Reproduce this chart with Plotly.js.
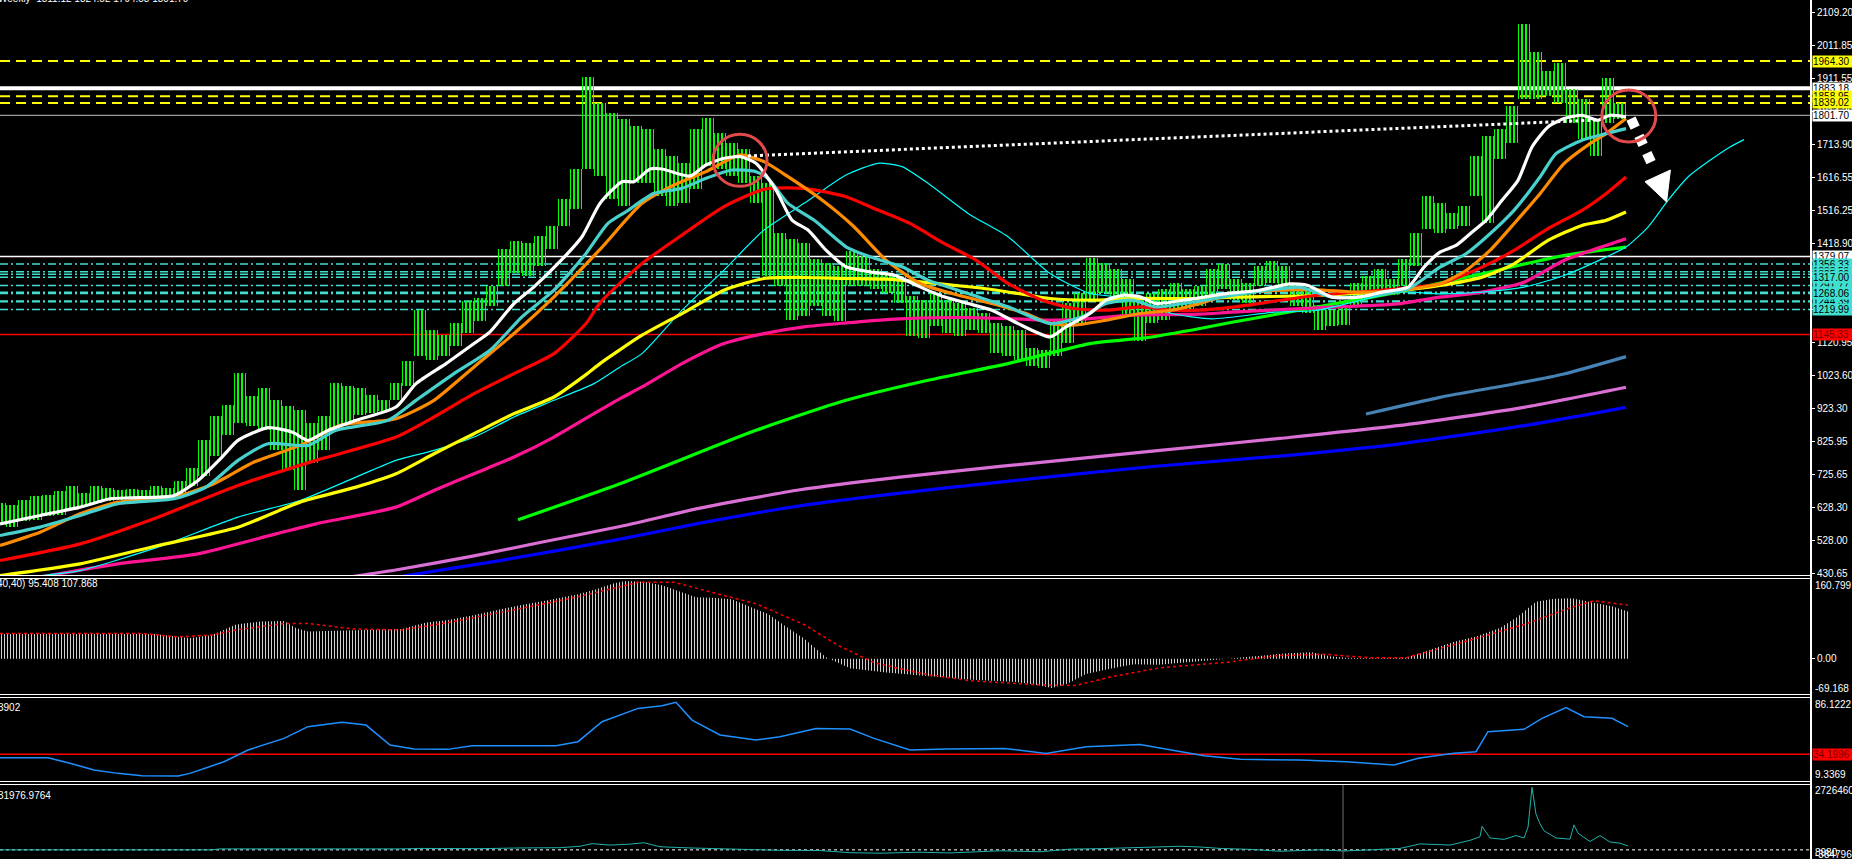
<!DOCTYPE html>
<html><head><meta charset="utf-8">
<script src="https://cdn.plot.ly/plotly-3.0.1.min.js"></script>
<style>html,body{margin:0;padding:0;background:#000;overflow:hidden}#chart{width:1852px;height:859px;}</style>
</head><body><div id="chart"></div>
<script>
// ---------- price bars (sampled every 6 weekly bars) ----------
const barX=[0,6,12,18,24,30,36,42,48,54,60,66,72,78,84,90,96,102,108,114,120,126,132,138,144,150,156,162,168,174,180,186,192,198,204,210,216,222,228,234,240,246,252,258,264,270,276,282,288,294,300,306,312,318,324,330,336,342,348,354,360,366,372,378,384,390,396,402,408,414,420,426,432,438,444,450,456,462,468,474,480,486,492,498,504,510,516,522,528,534,540,546,552,558,564,570,576,582,588,594,600,606,612,618,624,630,636,642,648,654,660,666,672,678,684,690,696,702,708,714,720,726,732,738,744,750,756,762,768,774,780,786,792,798,804,810];
const barHigh=[640,635,650,660,665,675,690,670,690,685,680,682,680,690,685,705,745,830,900,935,1030,960,985,950,930,920,880,900,1000,990,985,965,950,1000,1065,1220,1160,1145,1180,1245,1255,1290,1400,1425,1420,1440,1470,1550,1640,1917,1840,1810,1790,1770,1760,1700,1680,1660,1760,1795,1750,1720,1700,1620,1600,1450,1430,1420,1370,1360,1350,1395,1380,1340,1330,1320,1260,1250,1270,1250,1240,1225,1210,1180,1170,1160,1105,1100,1190,1240,1270,1375,1360,1340,1310,1250,1270,1280,1300,1280,1290,1340,1355,1310,1300,1350,1365,1350,1300,1280,1235,1220,1235,1300,1320,1340,1310,1370,1450,1560,1540,1510,1530,1680,1740,1760,1830,2075,1990,1935,1960,1880,1850,1790,1915,1840];
const barLow=[575,570,585,590,600,605,620,630,640,645,650,652,652,655,655,665,690,720,780,845,880,870,860,800,740,680,760,800,860,880,905,910,915,950,990,1080,1070,1080,1110,1150,1185,1230,1290,1330,1320,1350,1400,1470,1520,1640,1620,1550,1530,1600,1600,1560,1530,1540,1580,1650,1640,1620,1600,1540,1320,1290,1190,1200,1230,1200,1185,1290,1290,1280,1270,1240,1140,1135,1170,1150,1140,1160,1150,1090,1080,1070,1050,1046,1080,1120,1180,1250,1270,1240,1200,1125,1180,1190,1220,1220,1230,1260,1280,1250,1240,1290,1300,1280,1230,1210,1160,1170,1175,1230,1260,1270,1265,1290,1350,1460,1450,1460,1470,1560,1480,1670,1720,1850,1850,1860,1840,1780,1730,1680,1780,1790];

// ---------- moving averages: [bar index, price] ----------
const whiteX=[0,20,40,55,65,87,99,111,119,134,146,154,164,178,198,208,223,237,245,257,267,281,291,300,311,317,325,331,345,353,362,370,378,388,396,404,413,423,435,447,460,472,484,496,509,525,533,545,553,562,570,578,596,612,629,645,654,666,679,691,704,712,720,728,737,743,751,759,766,774,782,791,799,805,813];
const whiteY=[578,603,628,653,656,663,708,778,828,866,853,828,858,888,928,998,1058,1118,1153,1238,1288,1370,1438,1538,1603,1603,1641,1641,1620,1653,1673,1678,1658,1578,1488,1458,1398,1348,1333,1323,1288,1258,1238,1218,1178,1138,1168,1208,1248,1263,1258,1238,1252,1267,1277,1297,1292,1257,1257,1272,1287,1347,1392,1412,1457,1487,1547,1607,1707,1767,1792,1802,1787,1802,1797];
const turqX=[0,20,40,59,87,103,119,134,154,168,194,208,227,245,261,277,292,304,313,327,341,353,366,378,384,394,407,423,435,451,464,484,504,525,541,553,566,578,596,616,633,650,666,687,704,720,733,745,757,770,778,791,803,813];
const turqY=[543,568,603,638,653,688,768,818,813,858,888,948,1028,1098,1198,1278,1380,1478,1513,1568,1583,1613,1638,1633,1613,1538,1488,1408,1378,1348,1308,1268,1228,1178,1198,1238,1248,1228,1242,1262,1277,1287,1257,1262,1282,1347,1387,1447,1517,1617,1687,1727,1747,1762];
const orangeX=[0,20,40,59,87,107,127,150,170,198,217,237,257,277,300,321,337,353,370,382,394,411,427,443,460,476,496,513,525,537,553,570,586,600,616,637,658,679,699,720,733,745,757,770,782,795,803,813];
const orangeY=[513,553,608,643,658,698,763,813,873,893,948,1048,1148,1258,1400,1538,1593,1633,1683,1663,1618,1548,1468,1368,1298,1268,1238,1208,1178,1173,1188,1208,1218,1238,1267,1277,1279,1272,1277,1297,1337,1397,1477,1567,1657,1717,1747,1792];
const redX=[0,40,79,119,158,198,217,237,257,277,293,300,321,341,362,382,402,423,439,455,472,488,504,521,537,553,570,586,600,616,658,699,720,741,757,774,791,803,813];
const redY=[468,518,598,693,768,838,898,968,1028,1088,1178,1240,1358,1443,1528,1580,1583,1558,1518,1478,1418,1368,1298,1248,1223,1218,1228,1218,1218,1227,1262,1282,1297,1347,1397,1462,1517,1567,1617];
const yellowX=[0,40,79,119,150,178,198,217,237,257,277,293,300,321,341,362,382,402,423,443,460,476,492,509,525,545,566,600,616,658,699,720,741,757,774,791,803,813];
const yellowY=[423,458,513,568,643,688,728,788,848,908,958,1025,1058,1143,1208,1278,1313,1316,1313,1311,1303,1293,1283,1268,1253,1248,1253,1253,1257,1262,1277,1292,1317,1357,1427,1472,1487,1512];
const cyanX=[0,16,40,79,119,150,178,198,217,237,257,277,297,310,321,341,362,382,402,423,439,451,464,484,504,525,545,566,586,606,637,658,699,720,741,762,782,803,813,824,834,844,855,865,872];
const cyanY=[395,419,438,508,598,648,718,768,798,838,898,948,998,1048,1088,1218,1338,1458,1538,1623,1658,1648,1598,1508,1438,1328,1268,1253,1208,1192,1212,1217,1272,1267,1272,1287,1322,1377,1407,1467,1547,1617,1667,1707,1729];
const pinkX=[0,20,59,99,138,158,198,217,237,257,277,297,310,321,341,362,382,402,423,443,464,484,504,525,545,566,600,616,658,699,720,741,762,782,803,813];
const pinkY=[395,418,458,488,548,578,628,678,728,778,838,908,953,988,1058,1118,1148,1168,1180,1190,1195,1196,1193,1188,1193,1203,1206,1212,1225,1237,1257,1272,1302,1367,1412,1432];
const limeX=[259,310,378,423,464,504,545,575,600,616,658,699,741,782,813];
const limeY=[590,698,858,948,1008,1058,1118,1137,1163,1182,1227,1272,1327,1382,1407];
const orchidX=[174,200,237,270,310,350,400,450,500,575,640,699,762,813];
const orchidY=[418,442,482,522,570,625,680,718,750,795,834,872,927,987];
const blueX=[198,250,310,350,400,450,500,575,640,699,762,813];
const blueY=[418,468,532,580,632,670,703,749,781,817,872,927];
const steelX=[683,720,757,782,813];
const steelY=[907,957,997,1027,1079];

// ---------- annotations drawn on the chart ----------
const trendX=[374,800], trendY=[1680,1788];
const arrowX=[815.5,827], arrowY=[1792,1642];
const arrowHeadX=[822.5,835.2,833.3], arrowHeadY=[1603,1638,1542];
const circleCX=[370,814.4], circleCY=[1667,1800];

// ---------- horizontal levels ----------
const mainTicks=[2109.20,2011.85,1911.55,1814.20,1713.90,1616.55,1516.25,1418.90,1321.55,1221.25,1120.95,1023.60,923.30,825.95,725.65,628.30,528.00,430.65];
const yellowLevels=[1964.30,1858.95,1839.02];
const whiteThickLevel=1883.18;
const grayLevel=1801.70;
const whiteThinLevel=1379.07;
const cyanLevels=[1356.33,1333.50,1325.60,1317.00,1291.77,1271.60,1268.06,1244.39,1219.99];
const redLevel=1145.33;

// ---------- MACD (12,40,40) ----------
const macdX=[0,77,95,106,118,130,142,148,154,177,201,213,224,236,248,260,274,289,298,307,313,322,331,340,348,357,366,375,384,393,402,408,413,419,425,443,461,484,508,517,526,534,543,555,567,579,591,603,614,623,632,644,656,665,673,688,703,715,727,738,750,759,768,777,786,797,806,814];
const macdHist=[50,50,42,48,69,75,76,62,55,57,60,73,78,87,98,108,118,130,140,152,157,155,148,135,124,123,120,105,90,65,41,20,3,-8,-19,-28,-34,-42,-47,-52,-59,-50,-31,-20,-11,-12,-8,-4,0,3,6,11,13,5,2,1,2,18,34,45,62,85,115,121,122,113,106,95.4];
const sigX=[0,71,89,106,118,142,154,177,201,224,260,289,319,337,354,378,402,419,437,461,484,520,538,555,579,614,638,662,685,703,732,762,786,797,814];
const sigY=[51,51,44,48,58,71,71,60,58,73,101,125,154,154,136,111,69,27,-8,-30,-44,-53,-54,-37,-19,-7,6,9,2,2,34,69,104,117,107.9];

// ---------- oscillator panel ----------
const rsiX=[0,24,35,47,59,71,89,95,112,124,142,154,171,183,195,207,224,236,278,289,301,319,331,338,346,360,378,390,408,425,437,455,473,502,523,543,570,591,602,620,650,673,697,709,727,738,744,762,771,783,792,806,814];
const rsiY=[30.9,30.9,25.7,19.5,16.4,14.2,14.0,16.4,27.2,38,48.8,59.6,63.6,61.1,42.6,38.9,38.6,42,42,45.7,64.2,76.5,79,82.1,65.7,51.9,47.2,50.3,58,57.4,48.8,38,38.9,39.5,34.9,41.1,43.2,36.4,32.7,29.4,28.7,27.2,24.1,30.3,34.9,36.4,55,57.1,67.3,77.2,68.8,67.3,59.6];
const rsiLevel=34.1996;

// ---------- volume-type panel ----------
const volX=[0,106,110,150,200,210,240,260,280,290,296,305,315,322,330,345,355,375,390,410,425,440,460,475,490,500,520,535,550,575,590,600,610,625,640,660,672,690,700,710,725,735,740,741,745,752,758,762,764,766,768,770,772,778,785,787,789,795,800,805,810,814];
const volY=[0,0,0.4,0.3,0.4,0.6,0.5,0.8,0.9,1.5,2.6,2.0,2.4,3.0,1.3,0.8,0.6,0,-0.2,-0.3,-1.2,-1.4,-1.0,-1.3,-0.6,-0.4,-0.8,0.3,0.5,1.0,1.5,1.2,0.6,0.2,-0.6,0,-0.5,0.2,0.6,2.5,2.0,4.0,5.5,9.9,5.0,4.4,6.0,5.0,9.5,26.3,15,11,8,5,4.5,10.5,7,3.5,6.0,3.3,2.8,1.6];
const volMarkerBar=671.5;

// ================= build =================
const FONT='Liberation Sans, Arial, sans-serif';
const H=859;
const py=p=>1-p/H;
const traces=[];
traces.push({type:'bar',x:barX,y:barHigh.map((h,i)=>h-barLow[i]),base:barLow,width:6,
  marker:{color:'#00ff00',line:{width:0},pattern:{shape:'|',size:4,solidity:0.5,fgcolor:'#00ff00',fillmode:'replace'}},
  xaxis:'x',yaxis:'y',hoverinfo:'skip'});
function ma(x,y,color,w){traces.push({type:'scatter',mode:'lines',x:x,y:y,line:{color:color,width:w,shape:'spline',smoothing:0.6},xaxis:'x',yaxis:'y',hoverinfo:'skip'});}
ma(blueX,blueY,'#0000ff',3.2);
ma(orchidX,orchidY,'#da70d6',3.2);
ma(steelX,steelY,'#4682b4',3.2);
ma(limeX,limeY,'#00ff00',3.2);
ma(pinkX,pinkY,'#ff1493',3.2);
ma(cyanX,cyanY,'#00ffff',1.2);
ma(yellowX,yellowY,'#ffff00',3.2);
ma(redX,redY,'#ff0000',3.2);
ma(orangeX,orangeY,'#ff8c00',3.2);
ma(turqX,turqY,'#48d1cc',3.2);
ma(whiteX,whiteY,'#ffffff',3.2);
// arrow
traces.push({type:'scatter',mode:'lines',x:arrowX,y:arrowY,line:{color:'#ffffff',width:10,dash:'10px,9px'},xaxis:'x',yaxis:'y',hoverinfo:'skip'});
traces.push({type:'scatter',mode:'lines',x:arrowHeadX.concat([arrowHeadX[0]]),y:arrowHeadY.concat([arrowHeadY[0]]),fill:'toself',fillcolor:'#ffffff',line:{color:'#ffffff',width:1},xaxis:'x',yaxis:'y',hoverinfo:'skip'});
// MACD
traces.push({type:'scatter',mode:'lines',x:macdX,y:macdHist,fill:'tozeroy',fillcolor:'rgba(0,0,0,0)',
  fillpattern:{shape:'|',size:3,solidity:0.34,fgcolor:'#d0d0d0',fillmode:'replace'},line:{width:0,color:'#d0d0d0'},xaxis:'x',yaxis:'y2',hoverinfo:'skip'});
traces.push({type:'scatter',mode:'lines',x:sigX,y:sigY,line:{color:'#ff0000',width:1.5,dash:'dot'},xaxis:'x',yaxis:'y2',hoverinfo:'skip'});
// RSI
traces.push({type:'scatter',mode:'lines',x:rsiX,y:rsiY,line:{color:'#1e90ff',width:1.5},xaxis:'x',yaxis:'y3',hoverinfo:'skip'});
// volume
traces.push({type:'scatter',mode:'lines',x:volX,y:volY.map(v=>v*1e6),line:{color:'#20b2aa',width:1},xaxis:'x',yaxis:'y4',hoverinfo:'skip'});

const shapes=[];
function hline(y,color,width,dash,yref){shapes.push({type:'line',xref:'paper',x0:0,x1:1,yref:yref||'y',y0:y,y1:y,layer:'below',line:{color:color,width:width,dash:dash||'solid'}});}
yellowLevels.forEach(v=>hline(v,'#ffff00',2,'10px,6px'));
hline(whiteThickLevel,'#ffffff',4);
hline(grayLevel,'#9a9a9a',1.2);
hline(whiteThinLevel,'#ffffff',1.5);
cyanLevels.forEach((v,i)=>hline(v,'#40e0d0',i===7?2.4:1.5,'8px,3px,2px,3px'));
hline(redLevel,'#ff0000',1.5);
hline(rsiLevel,'#ff0000',1.5,'solid','y3');
hline(0,'#ffffff',1,'3px,3px','y4');
shapes.push({type:'line',xref:'x',yref:'y4',x0:volMarkerBar,x1:volMarkerBar,y0:-3847960,y1:27264608,line:{color:'#707070',width:1}});
shapes.push({type:'line',xref:'x',yref:'y',x0:trendX[0],x1:trendX[1],y0:trendY[0],y1:trendY[1],line:{color:'#ffffff',width:3,dash:'dot'}});
circleCX.forEach((cx,i)=>shapes.push({type:'circle',xref:'x',yref:'y',x0:cx-13.5,x1:cx+13.5,y0:circleCY[i]-78,y1:circleCY[i]+78,line:{color:'#e04a4a',width:3}}));
// panel separators and right axis line
[575.5,578.5,694.5,697.5,781.5,784.5].forEach(p=>shapes.push({type:'line',xref:'paper',yref:'paper',x0:0,x1:1,y0:py(p),y1:py(p),line:{color:'#ffffff',width:1.2}}));
shapes.push({type:'line',xref:'paper',yref:'paper',x0:1,x1:1,y0:0,y1:1,line:{color:'#ffffff',width:2}});

const ann=[];
function box(v,text,bg,fc,yref){ann.push({xref:'paper',x:1,xanchor:'left',xshift:1,yref:yref||'y',y:v,yanchor:'middle',text:text,showarrow:false,bgcolor:bg,borderpad:0,width:39,height:11,align:'left',font:{family:FONT,size:10,color:fc}});}
box(yellowLevels[0],yellowLevels[0].toFixed(2),'#ffff00','#000');
box(whiteThickLevel,whiteThickLevel.toFixed(2),'#ffffff','#000');
box(yellowLevels[1],yellowLevels[1].toFixed(2),'#ffff00','#000');
box(yellowLevels[2],yellowLevels[2].toFixed(2),'#ffff00','#000');
box(grayLevel,grayLevel.toFixed(2),'#ffffff','#000');
box(whiteThinLevel,whiteThinLevel.toFixed(2),'#ffffff','#000');
[0,1,2,4,5,7,3,6,8].forEach(i=>box(cyanLevels[i],cyanLevels[i].toFixed(2),'#40e0d0','#000'));
box(redLevel,redLevel.toFixed(2),'#ff0000','#7a0000');
box(rsiLevel,rsiLevel.toFixed(4),'#ff0000','#7a0000','y3');
function txt(x,xa,xs,ypx,text){ann.push({xref:'paper',yref:'paper',x:x,y:py(ypx),xanchor:xa,xshift:xs,yanchor:'middle',text:text,showarrow:false,borderpad:0,font:{family:FONT,size:10,color:'#ffffff'}});}
txt(1,'left',3,585,'160.799');
txt(1,'left',3,688,'-69.168');
txt(1,'left',3,704,'86.1222');
txt(1,'left',3,774,'9.3369');
txt(1,'left',3,790,'27264608');
txt(1,'left',3,854,'-3847960');
txt(1,'left',3,852,'8980');
txt(0,'left',-4,583,'40,40) 95.408 107.868');
txt(0,'left',-3,707,'3902');
txt(0,'left',-3,795,'31976.9764');
ann.push({xref:'paper',yref:'paper',x:0,y:1,xanchor:'left',yanchor:'bottom',xshift:-3,yshift:-5,text:'Weekly  1811.12 1824.52 1794.58 1801.70',showarrow:false,borderpad:0,font:{family:FONT,size:10,color:'#ffffff'}});

const tickStyle={showgrid:false,zeroline:false,side:'right',anchor:'x',ticks:'outside',ticklen:3,tickcolor:'#ffffff',tickfont:{family:FONT,size:10,color:'#ffffff'},showline:false,fixedrange:true};
const layout={width:1852,height:859,margin:{l:0,r:41,t:0,b:0,pad:0},paper_bgcolor:'#000',plot_bgcolor:'#000',showlegend:false,bargap:0,
  xaxis:{range:[0,905.5],visible:false,fixedrange:true},
  yaxis:Object.assign({},tickStyle,{domain:[py(575),1],range:[424.7,2147.25],tickvals:mainTicks,ticktext:mainTicks.map(v=>v.toFixed(2))}),
  yaxis2:Object.assign({},tickStyle,{domain:[py(693),py(579)],range:[-69.168,160.799],tickvals:[0],ticktext:['0.00']}),
  yaxis3:Object.assign({},tickStyle,{domain:[py(781),py(698)],range:[9.3369,86.1222],tickvals:[]}),
  yaxis4:Object.assign({},tickStyle,{domain:[0,py(785)],range:[-3847960,27264608],tickvals:[]}),
  shapes:shapes,annotations:ann};
Plotly.newPlot('chart',traces,layout,{displayModeBar:false,staticPlot:true});
</script></body></html>
